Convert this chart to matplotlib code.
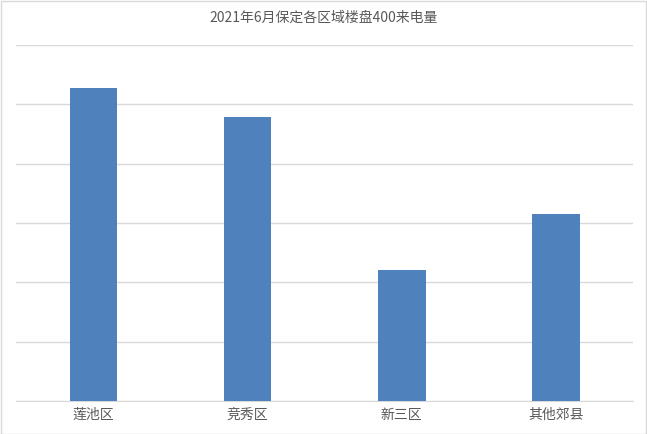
import matplotlib.pyplot as plt
from matplotlib.patches import Rectangle

plt.rcParams['font.family'] = ['Noto Sans CJK SC', 'DejaVu Sans']

regions = ["莲池区", "竞秀区", "新三区", "其他郊县"]
calls = [5.28, 4.79, 2.21, 3.15]

fig = plt.figure(figsize=(6.47, 4.34), dpi=100)
ax = fig.add_axes([0.0255, 0.076, 0.9525, 0.82])

ax.bar(range(len(regions)), calls, width=0.31, color="#4f81bd", zorder=3)
ax.set_xlim(-0.5, len(regions) - 0.5)
ax.set_ylim(0, 6)
ax.set_yticks(range(0, 7))
ax.set_yticklabels([])
ax.set_xticks(range(len(regions)))
ax.set_xticklabels(regions, fontsize=10, color="#595959")
ax.tick_params(axis="both", length=0)
ax.tick_params(axis="x", pad=5)
ax.grid(axis="y", color="#d9d9d9", linewidth=1, zorder=0)
for s in ["top", "right", "left"]:
    ax.spines[s].set_visible(False)
ax.spines["bottom"].set_color("#d9d9d9")

fig.text(0.5, 0.958, "2021年6月保定各区域楼盘400来电量", ha="center", va="center",
         fontsize=10, color="#595959")
fig.patches.append(Rectangle((0.001, 0.001), 0.997, 0.996, transform=fig.transFigure,
                             fill=False, edgecolor="#d9d9d9", linewidth=1))

fig.savefig("out.png", dpi=100)
